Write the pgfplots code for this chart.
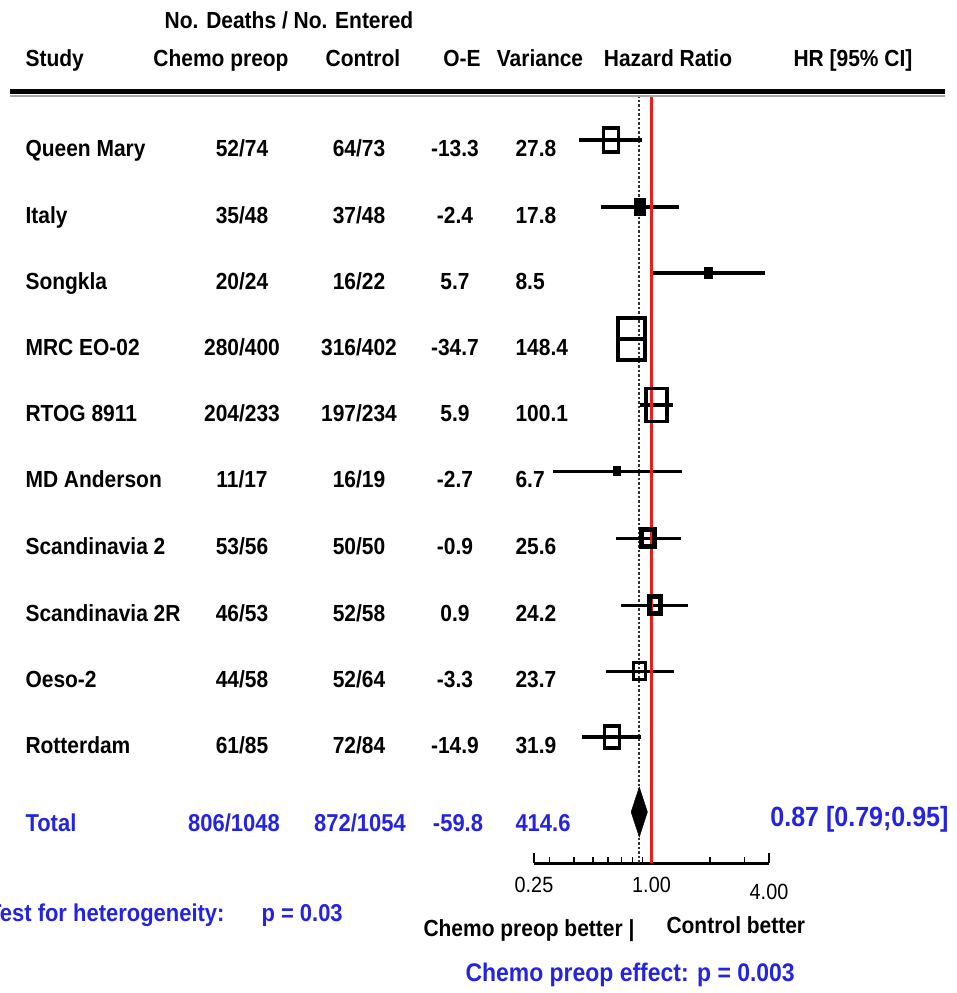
\documentclass[border=0pt]{standalone}
\usepackage{pgfplots}
\pgfplotsset{compat=1.18}
\usepackage{fontspec}
\setmainfont{Liberation Sans}[FakeStretch=0.9]
\definecolor{tblue}{RGB}{35,35,225}
\definecolor{refred}{RGB}{235,30,30}
\newcommand\fs[1]{\fontsize{#1}{#1}\selectfont}
\newcommand\row[6]{%
  \node[anchor=base west] at (22,#6) {#1};
  \node[anchor=base] at (242,#6) {#2};
  \node[anchor=base] at (359,#6) {#3};
  \node[anchor=base] at (455,#6) {#4};
  \node[anchor=base west] at (512,#6) {#5};
}
\begin{document}
\begin{tikzpicture}
\useasboundingbox (0,0) rectangle (957pt,-993pt);
\clip (0,0) rectangle (957pt,-993pt);
\begin{axis}[
  at={(534pt,-863pt)}, anchor=south west,
  scale only axis, width=235pt, height=768pt,
  xmode=log,
  xmin=0.25, xmax=4, ymin=-863, ymax=-95,
  axis y line=none, axis x line=bottom,
  x axis line style={-, line width=3pt},
  xtick={0.25,1}, xticklabels={0.25,1.00},
  extra x ticks={4}, extra x tick labels={4.00},
  extra x tick style={xticklabel style={yshift=-7pt}},
  minor xtick={0.3,0.4,0.5,0.6,0.7,0.8,0.9,2,3},
  tick align=inside, major tick length=10pt, minor tick length=6pt,
  tick style={black, line width=1.5pt},
  xticklabel style={font=\fs{22}, yshift=-11pt},
  clip=false,
]
% overall HR reference (dotted)
\addplot[black!80, line width=2pt, dash pattern=on 2.5pt off 2pt] coordinates {(0.866,-95) (0.866,-863)};
% CI lines
\addplot[black, line width=3.5pt] coordinates {(0.427,-140) (0.899,-140)};
\addplot[black, line width=3.5pt] coordinates {(0.549,-207) (1.390,-207)};
\addplot[black, line width=3.5pt] coordinates {(0.998,-273) (3.830,-273)};
\addplot[black, line width=3.5pt] coordinates {(0.674,-339) (0.930,-339)};
\addplot[black, line width=3.5pt] coordinates {(0.872,-405) (1.290,-405)};
\addplot[black, line width=3pt] coordinates {(0.314,-471) (1.425,-471)};
\addplot[black, line width=3pt] coordinates {(0.655,-538) (1.422,-538)};
\addplot[black, line width=3pt] coordinates {(0.697,-605) (1.546,-605)};
\addplot[black, line width=3pt] coordinates {(0.582,-671) (1.301,-671)};
\addplot[black, line width=3.5pt] coordinates {(0.443,-737) (0.887,-737)};
% study estimates
\addplot[only marks, mark=square, mark size=7.5pt, mark options={black, line width=3.5pt, yscale=1.6}] coordinates {(0.620,-140)};
\addplot[only marks, mark=square*, mark size=5.5pt, mark options={black, line width=1pt, yscale=1.5}] coordinates {(0.874,-207)};
\addplot[only marks, mark=square*, mark size=4pt, mark options={black, line width=1pt, yscale=1.3}] coordinates {(1.955,-273)};
\addplot[only marks, mark=square, mark size=13.5pt, mark options={black, line width=3.5pt, yscale=1.55}] coordinates {(0.792,-339)};
\addplot[only marks, mark=square, mark size=10.5pt, mark options={black, line width=3.5pt, yscale=1.55}] coordinates {(1.061,-405)};
\addplot[only marks, mark=square*, mark size=3.5pt, mark options={black, line width=1pt, yscale=1.3}] coordinates {(0.668,-471)};
\addplot[only marks, mark=square, mark size=6.5pt, mark options={black, line width=5pt, yscale=1.35}] coordinates {(0.965,-538)};
\addplot[only marks, mark=square, mark size=5.5pt, mark options={black, line width=5pt, yscale=1.5}] coordinates {(1.038,-605)};
\addplot[only marks, mark=square, mark size=6pt, mark options={black, line width=3.5pt, yscale=1.4}] coordinates {(0.870,-671)};
\addplot[only marks, mark=square, mark size=7.5pt, mark options={black, line width=3.5pt, yscale=1.45}] coordinates {(0.627,-737)};
% no-effect line
\addplot[refred, line width=3pt] coordinates {(1,-95) (1,-863)};
% pooled estimate diamond
\addplot[fill=black, draw=black] coordinates {(0.786,-812) (0.866,-787) (0.953,-812) (0.866,-837)} -- cycle;
\end{axis}
\begin{scope}[x=1pt, y=-1pt, font=\bfseries\fs{23.3}]
\draw[line width=5pt] (10,91) -- (945,91);
\draw[line width=2pt, black!35] (10,96) -- (945,96);
\node[anchor=base] at (289,28) {No. Deaths / No. Entered};
\node[anchor=base west] at (22,66) {Study};
\node[anchor=base] at (221,66) {Chemo preop};
\node[anchor=base] at (363,66) {Control};
\node[anchor=base] at (462,66) {O-E};
\node[anchor=base] at (540,66) {Variance};
\node[anchor=base] at (668,66) {Hazard Ratio};
\node[anchor=base] at (853,66) {HR [95\% CI]};
\row{Queen Mary}{52/74}{64/73}{-13.3}{27.8}{156.5}
\row{Italy}{35/48}{37/48}{-2.4}{17.8}{223.5}
\row{Songkla}{20/24}{16/22}{5.7}{8.5}{289.5}
\row{MRC EO-02}{280/400}{316/402}{-34.7}{148.4}{355.5}
\row{RTOG 8911}{204/233}{197/234}{5.9}{100.1}{421.5}
\row{MD Anderson}{11/17}{16/19}{-2.7}{6.7}{487.5}
\row{Scandinavia 2}{53/56}{50/50}{-0.9}{25.6}{554.5}
\row{Scandinavia 2R}{46/53}{52/58}{0.9}{24.2}{621.5}
\row{Oeso-2}{44/58}{52/64}{-3.3}{23.7}{687.5}
\row{Rotterdam}{61/85}{72/84}{-14.9}{31.9}{753.5}
\begin{scope}[tblue, font=\bfseries\fs{24.4}]
\node[anchor=base west] at (22,831) {Total};
\node[anchor=base] at (234,831) {806/1048};
\node[anchor=base] at (360,831) {872/1054};
\node[anchor=base] at (458,831) {-59.8};
\node[anchor=base west] at (512,831) {414.6};
\node[anchor=base east, font=\bfseries\fs{27.8}] at (952,826) {0.87 [0.79;0.95]};
\node[anchor=base east] at (228,921) {Test for heterogeneity:};
\node[anchor=base west] at (258,921) {p = 0.03};
\node[anchor=base west, font=\bfseries\fs{25.5}] at (462,981) {Chemo preop effect: p = 0.003};
\end{scope}
\node[anchor=base west] at (420,936) {Chemo preop better |};
\node[anchor=base west] at (663,933) {Control better};
\end{scope}
\end{tikzpicture}
\end{document}
